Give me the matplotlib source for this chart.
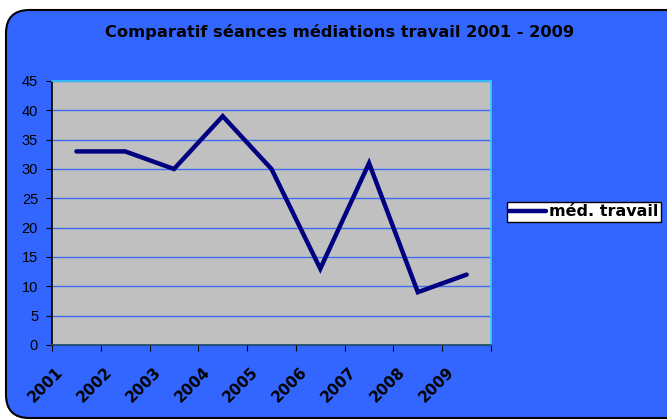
import matplotlib
matplotlib.use("Agg")
import matplotlib.pyplot as plt
from matplotlib.patches import FancyBboxPatch
import matplotlib.transforms as mtransforms

years = ["2001", "2002", "2003", "2004", "2005", "2006", "2007", "2008", "2009"]
values = [33, 33, 30, 39, 30, 13, 31, 9, 12]
series_name = "méd. travail"
title = "Comparatif séances médiations travail 2001 - 2009"

W, H = 667, 420
fig = plt.figure(figsize=(W / 100, H / 100), dpi=100)
fig.patch.set_facecolor("white")

# rounded blue background
bg = FancyBboxPatch((6 / W, 2 / H), (W + 40) / W, (H - 12) / H,
                    boxstyle="round,pad=0,rounding_size=0.035",
                    transform=fig.transFigure, facecolor="#3366FF",
                    edgecolor="black", linewidth=1.5, zorder=-5,
                    mutation_aspect=W / H)
fig.patches.append(bg)

ax = fig.add_axes([52 / W, 1 - 345 / H, (491 - 52) / W, (345 - 81) / H])
ax.set_zorder(2)
ax.set_facecolor("#C0C0C0")

x = list(range(len(years)))
ax.plot(x, values, color="#000080", linewidth=3.2, solid_capstyle="round",
        solid_joinstyle="miter", label=series_name, zorder=3)

ax.set_xlim(-0.5, len(years) - 0.5)
ax.set_ylim(0, 45)
ax.set_yticks(range(0, 46, 5))
ax.yaxis.grid(True, color="#3f6cf0", linewidth=1)
ax.set_axisbelow(True)

ax.set_xticks([i - 0.5 for i in range(len(years) + 1)])
ax.set_xticklabels([])
ax.set_xticks(x, minor=True)
ax.set_xticklabels(years, minor=True, rotation=45, ha="right", va="top",
                   fontsize=11, fontweight="heavy", family="DejaVu Sans")
ax.tick_params(axis="x", which="minor", length=0, pad=14)
offset = mtransforms.ScaledTranslation(-10 / 100, 0, fig.dpi_scale_trans)
for lab in ax.xaxis.get_minorticklabels():
    lab.set_transform(lab.get_transform() + offset)
ax.tick_params(axis="x", which="major", length=4, color="black", direction="out")
ax.tick_params(axis="y", length=4, color="black", direction="out", labelsize=10.5, pad=6)
for lab in ax.get_yticklabels():
    lab.set_family("Liberation Sans")

ax.spines["left"].set_color("black")
ax.spines["bottom"].set_color("#1a4a60")
ax.spines["top"].set_color("#33CCFF")
ax.spines["right"].set_color("#33CCFF")
for s in ax.spines.values():
    s.set_linewidth(1.2)

fig.text(340 / W, 1 - 32 / H, title, ha="center", va="center",
         fontsize=11.7, fontweight="bold", family="DejaVu Sans")

leg = fig.legend(loc="center left", bbox_to_anchor=(507 / W, 1 - 212 / H),
                 frameon=True, fancybox=False, edgecolor="black",
                 facecolor="white", framealpha=1, handlelength=2.3,
                 handletextpad=0.2, borderpad=0.15, borderaxespad=0,
                 prop={"weight": "bold", "size": 11.5, "family": "DejaVu Sans"})
leg.get_frame().set_linewidth(1)
leg.set_zorder(5)

fig.savefig("out.png", dpi=100)
